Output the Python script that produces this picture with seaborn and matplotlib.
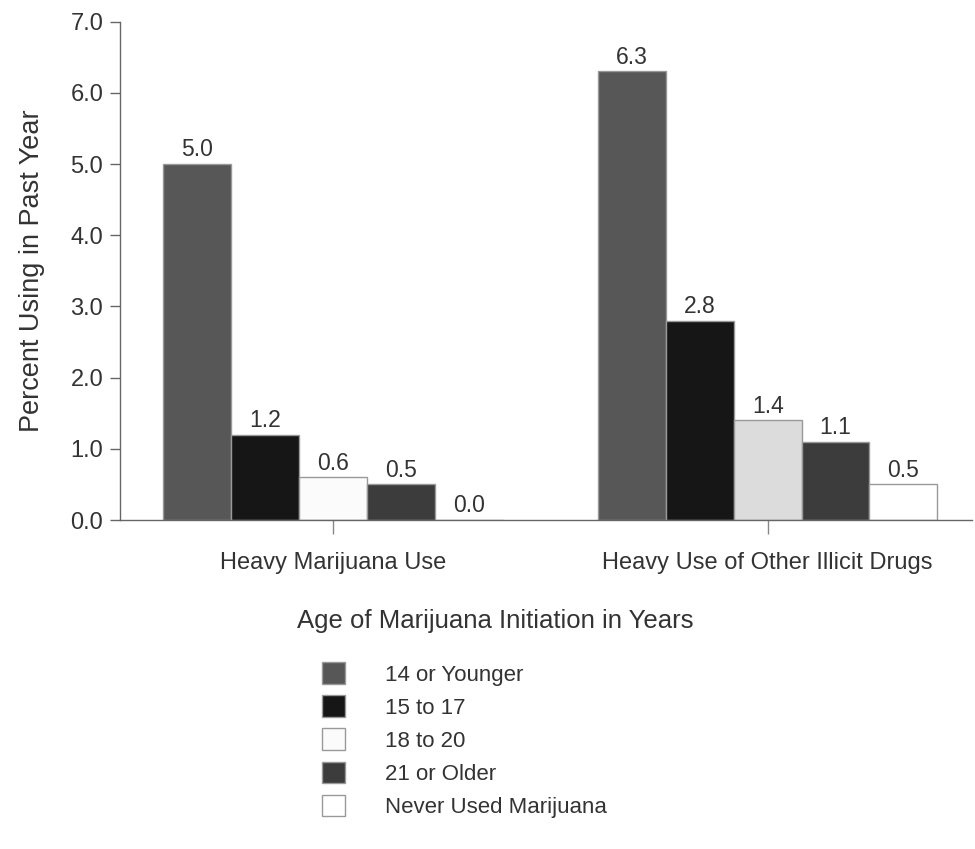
import matplotlib
matplotlib.use("Agg")
import matplotlib.pyplot as plt
import seaborn as sns
import pandas as pd
from matplotlib.patches import Patch

measures = ["Heavy Marijuana Use", "Heavy Use of Other Illicit Drugs"]
age_groups = ["14 or Younger", "15 to 17", "18 to 20", "21 or Older", "Never Used Marijuana"]
heavy_marijuana = [5.0, 1.2, 0.6, 0.5, 0.0]
heavy_other = [6.3, 2.8, 1.4, 1.1, 0.5]
y_ticks = [0.0, 1.0, 2.0, 3.0, 4.0, 5.0, 6.0, 7.0]

colors = ["#575757", "#161616", "#fbfbfb", "#3c3c3c", "#ffffff"]

rows = []
for m, vals in zip(measures, [heavy_marijuana, heavy_other]):
    for g, v in zip(age_groups, vals):
        rows.append({"Measure": m, "Age": g, "Percent": v})
df = pd.DataFrame(rows)

sns.set_theme(style="white")
plt.rcParams["font.family"] = ["Liberation Sans", "DejaVu Sans"]
text_color = "#333333"
edge = "#999999"

fig = plt.figure(figsize=(9.75, 8.49), dpi=100)
ax = fig.add_axes([0.123, 0.3875, 0.874, 0.587])

sns.barplot(data=df, x="Measure", y="Percent", hue="Age", order=measures,
            hue_order=age_groups, palette=colors, width=0.78, gap=0,
            edgecolor=edge, linewidth=1.0, legend=False, ax=ax)

# lighter fill for the 18-20 bar of the second group
for cont, name in zip(ax.containers, age_groups):
    if name == "18 to 20":
        cont.patches[1].set_facecolor("#dcdcdc")
    ax.bar_label(cont, fmt="%.1f", padding=2, fontsize=16.5, color=text_color)

ax.set_ylim(0, 7.0)
ax.set_xlim(-0.49, 1.47)
ax.set_yticks(y_ticks)
ax.set_yticklabels([f"{t:.1f}" for t in y_ticks])
ax.set_ylabel("Percent Using in Past Year", fontsize=19.5, color=text_color, labelpad=18)
ax.set_xlabel("")
ax.tick_params(axis="y", left=True, length=7, width=1, color="#666666",
               labelsize=17, labelcolor=text_color, pad=5)
ax.tick_params(axis="x", bottom=True, length=10, width=1, color="#888888",
               labelsize=17, labelcolor=text_color, pad=13)
for side in ["top", "right"]:
    ax.spines[side].set_visible(False)
for side in ["left", "bottom"]:
    ax.spines[side].set_color("#666666")
    ax.spines[side].set_linewidth(1.0)

fig.text(0.508, 0.269, "Age of Marijuana Initiation in Years", ha="center",
         va="center", fontsize=18.5, color=text_color)
handles = [Patch(facecolor=c, edgecolor=edge, linewidth=1.0) for c in colors]
fig.legend(handles, age_groups, loc="upper left", bbox_to_anchor=(0.330, 0.220),
           frameon=False, fontsize=16, labelcolor=text_color, handlelength=1.05,
           handleheight=1.12, handletextpad=1.8, labelspacing=0.44, borderpad=0,
           borderaxespad=0)

fig.savefig("out.png", dpi=100, facecolor="white")
